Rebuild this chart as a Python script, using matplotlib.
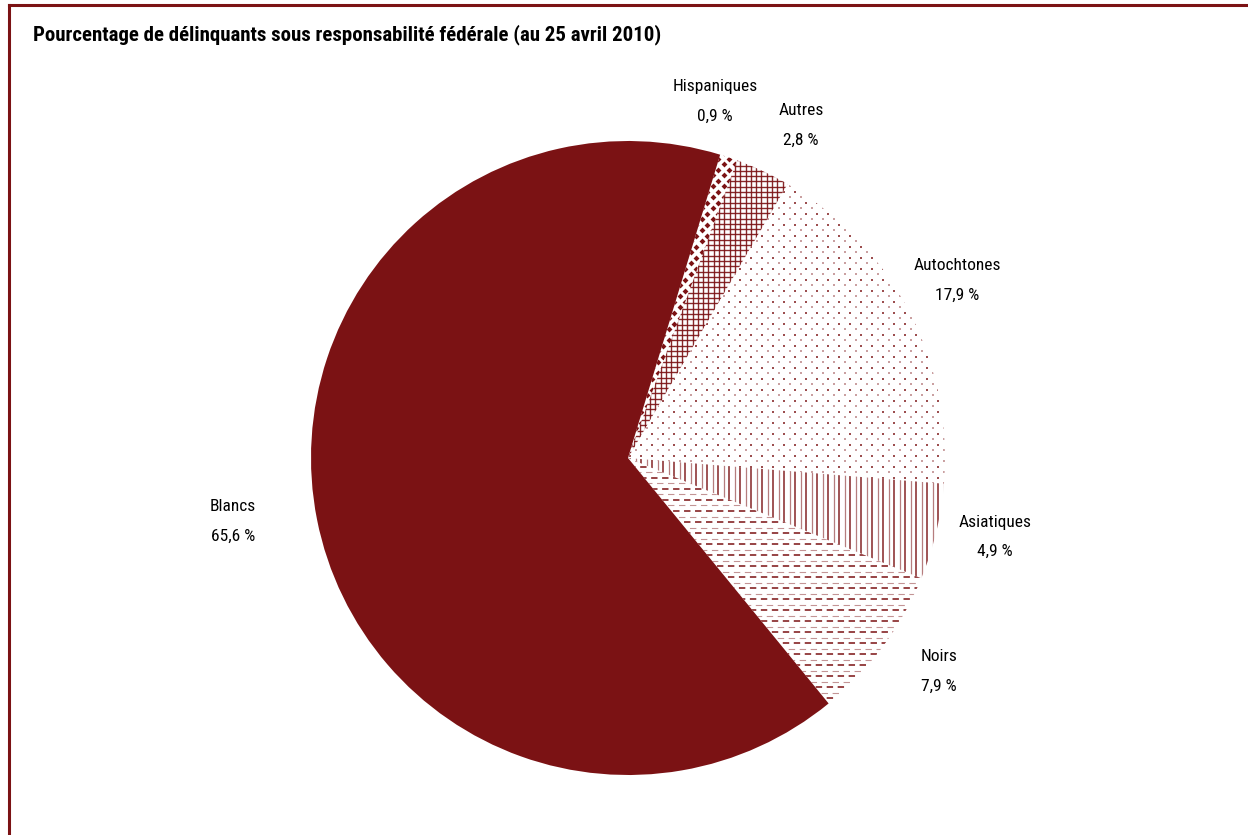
import numpy as np
import matplotlib
matplotlib.use("Agg")
import matplotlib.pyplot as plt
from matplotlib.lines import Line2D
from matplotlib import font_manager

plt.rcParams["lines.scale_dashes"] = False

# Données (en %), dans l'ordre horaire à partir de la tranche Hispaniques
categories = ["Hispaniques", "Autres", "Autochtones", "Asiatiques", "Noirs", "Blancs"]
values = [0.9, 2.8, 17.9, 4.9, 7.9, 65.6]
title = "Pourcentage de délinquants sous responsabilité fédérale (au 25 avril 2010)"

# position des étiquettes (unités du rayon)
label_xy = [(0.274, 1.125), (0.546, 1.049), (1.038, 0.560),
            (1.158, -0.249), (0.981, -0.673), (-1.246, -0.200)]

RED = "#7B1214"
PX = 1 / 317.0  # un pixel en unités du rayon

names = {f.name for f in font_manager.fontManager.ttflist}
narrow = next((n for n in ["Liberation Sans Narrow", "Roboto Condensed", "PT Sans Narrow"]
               if n in names), "Liberation Sans")

fig = plt.figure(figsize=(12.48, 8.35), dpi=100)
ax = fig.add_axes([311 / 1248, 60 / 835, 634 / 1248, 634 / 835])

wedges, _ = ax.pie(values, startangle=73.1, counterclock=False, radius=1,
                   colors=["white"] * 5 + [RED],
                   wedgeprops=dict(linewidth=0))
ax.set_xlim(-1, 1)
ax.set_ylim(-1, 1)
ax.set_aspect("equal")
ax.axis("off")

# grilles pour les motifs
s = 11 * PX
g = np.arange(-1, 1 + s, s)
gx, gy = np.meshgrid(g, g)


def clip(artist, wedge):
    artist.set_clip_path(wedge)
    return artist


# Hispaniques : losanges pleins
w = wedges[0]
sc = ax.scatter(np.r_[gx.ravel(), gx.ravel() + s / 2], np.r_[gy.ravel(), gy.ravel() + s / 2],
                marker="D", s=9, color=RED, linewidths=0)
clip(sc, w)

# Autres : quadrillage
w = wedges[1]
gs = 5.3 * PX
lines = np.arange(-1, 1, gs)
clip(ax.vlines(lines, -1, 1, color=RED, lw=1.0, alpha=0.9), w)
clip(ax.hlines(lines, -1, 1, color=RED, lw=1.0, alpha=0.9), w)

# Autochtones : points
w = wedges[2]
clip(ax.scatter(gx.ravel(), gy.ravel(), marker="s", s=3, color=RED, alpha=0.75, linewidths=0), w)
clip(ax.scatter(gx.ravel() + s / 2, gy.ravel() + s / 2, marker="s", s=1.2, color=RED,
                alpha=0.4, linewidths=0), w)

# Asiatiques : lignes verticales
w = wedges[3]
clip(ax.vlines(g, -1, 1, color=RED, lw=1.2, alpha=0.85), w)
clip(ax.vlines(g + s / 2, -1, 1, color=RED, lw=0.9, alpha=0.55), w)

# Noirs : tirets horizontaux
w = wedges[4]
clip(ax.hlines(g, -1, 1, color=RED, lw=1.3, alpha=0.85,
               linestyles=[(0, (4.6, 3.3))]), w)
clip(ax.hlines(g + s / 2, -1, 1, color=RED, lw=0.8, alpha=0.45,
               linestyles=[(4.0, (4.6, 3.3))]), w)

# étiquettes
dy = 14.5 * PX
for name, v, (x, y) in zip(categories, values, label_xy):
    pct = f"{v:.1f}".replace(".", ",") + " %"
    ax.text(x, y + dy, name, ha="center", va="center", fontsize=12.5,
            family=narrow, color="black", clip_on=False)
    ax.text(x, y - dy, pct, ha="center", va="center", fontsize=12.5,
            family=narrow, color="black", clip_on=False)

fig.text(33 / 1248, 1 - 35 / 835, title, ha="left", va="center", fontsize=15,
         fontweight="bold", family=narrow)

# cadre
fig.add_artist(Line2D([8.5 / 1248, 1], [1 - 5 / 835, 1 - 5 / 835],
                      transform=fig.transFigure, color=RED, lw=2.2))
fig.add_artist(Line2D([8.5 / 1248, 8.5 / 1248], [0, 1 - 5 / 835],
                      transform=fig.transFigure, color=RED, lw=2.2))

fig.savefig("out.png", dpi=100)
